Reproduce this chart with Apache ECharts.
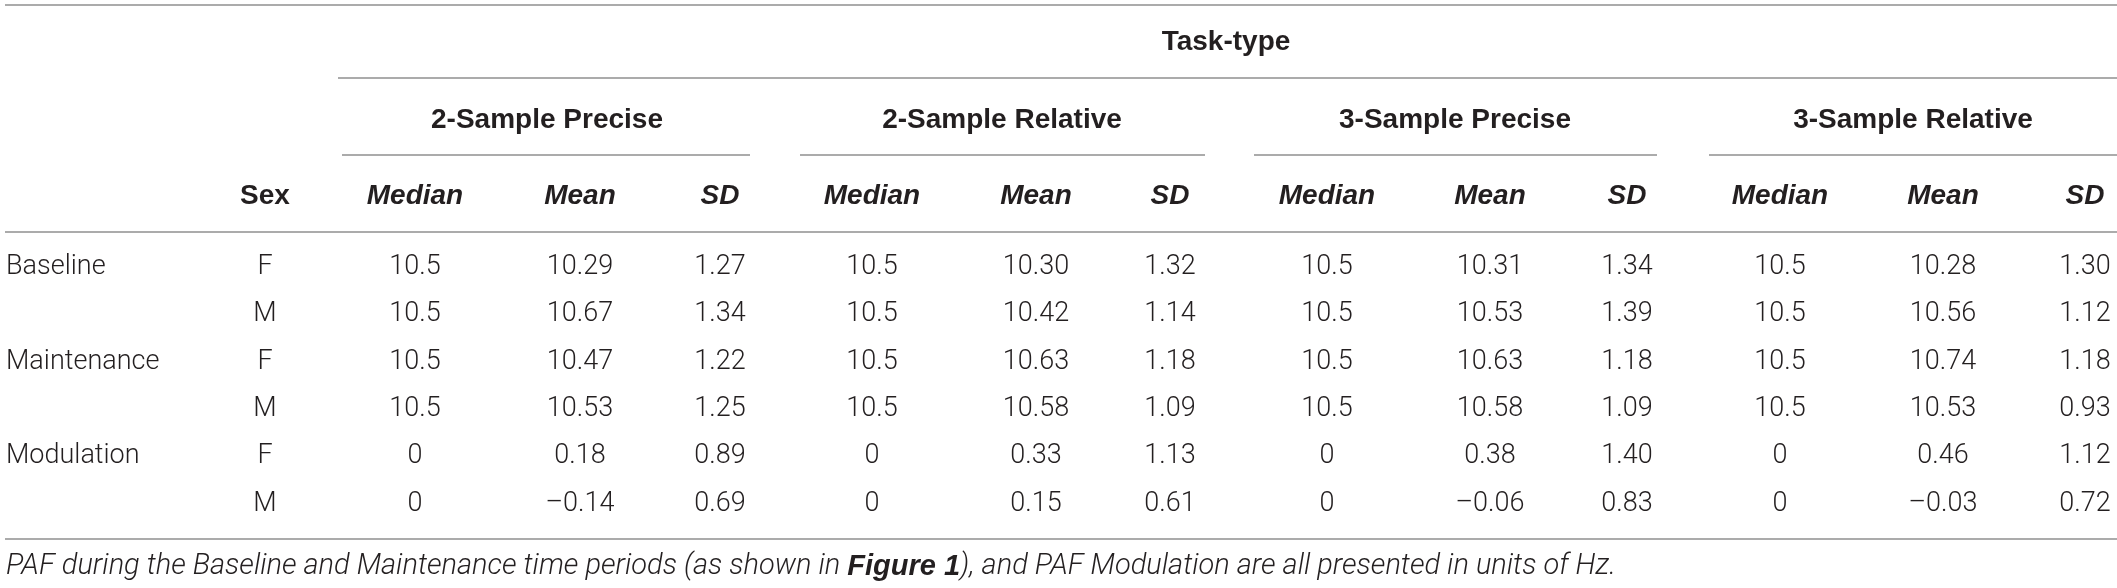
<!DOCTYPE html>
<html>
<head>
<meta charset="utf-8">
<script src="https://cdn.jsdelivr.net/npm/echarts@6/dist/echarts.min.js"></script>
<style>
  html, body { margin: 0; padding: 0; background: #fff; }
  #chart { width: 2117px; height: 588px; }
</style>
</head>
<body>
<div id="chart"></div>
<script>
// table contents
const periods = ["Baseline", "", "Maintenance", "", "Modulation", ""];
const sexes = ["F", "M", "F", "M", "F", "M"];
const taskTypes = ["2-Sample Precise", "2-Sample Relative", "3-Sample Precise", "3-Sample Relative"];
const statLabels = ["Median", "Mean", "SD"];

const medians = {
  "2-Sample Precise": [10.5, 10.5, 10.5, 10.5, 0, 0],
  "2-Sample Relative": [10.5, 10.5, 10.5, 10.5, 0, 0],
  "3-Sample Precise": [10.5, 10.5, 10.5, 10.5, 0, 0],
  "3-Sample Relative": [10.5, 10.5, 10.5, 10.5, 0, 0]
};
const means = {
  "2-Sample Precise": [10.29, 10.67, 10.47, 10.53, 0.18, -0.14],
  "2-Sample Relative": [10.30, 10.42, 10.63, 10.58, 0.33, 0.15],
  "3-Sample Precise": [10.31, 10.53, 10.63, 10.58, 0.38, -0.06],
  "3-Sample Relative": [10.28, 10.56, 10.74, 10.53, 0.46, -0.03]
};
const sds = {
  "2-Sample Precise": [1.27, 1.34, 1.22, 1.25, 0.89, 0.69],
  "2-Sample Relative": [1.32, 1.14, 1.18, 1.09, 1.13, 0.61],
  "3-Sample Precise": [1.34, 1.39, 1.18, 1.09, 1.40, 0.83],
  "3-Sample Relative": [1.30, 1.12, 1.18, 0.93, 1.12, 0.72]
};
const caption = "PAF during the Baseline and Maintenance time periods (as shown in {b|Figure 1}), and PAF Modulation are all presented in units of Hz.";

// layout (pixels)
const W = 2117, H = 588;
const periodX = 6, sexX = 265;
const groupCenters = [547, 1002, 1455, 1913];
const groupRules = [[342, 750], [800, 1205], [1254, 1657], [1709, 2117]];
const statX = [[415, 580, 720], [872, 1036, 1170], [1327, 1490, 1627], [1780, 1943, 2085]];
const rowY0 = 267, rowStep = 47.4;

const ink = "#231f20";
const ruleColor = "#8f8f8f";
const bodyFont = "300 27px Roboto, 'Liberation Sans', sans-serif";
const boldFont = "bold 28px 'Liberation Sans', Arial, sans-serif";
const boldItalicFont = "italic bold 28px 'Liberation Sans', Arial, sans-serif";

function fmt(v, digits) {
  const s = digits == null ? String(v) : Math.abs(v).toFixed(digits);
  return v < 0 ? "\u2013" + s : s;
}

const cells = [];
cells.push({ x: 1226, y: 42, text: "Task-type", font: boldFont });
taskTypes.forEach((t, g) => {
  cells.push({ x: groupCenters[g], y: 120, text: t, font: boldFont });
  statLabels.forEach((s, k) => {
    cells.push({ x: statX[g][k], y: 196, text: s, font: boldItalicFont });
  });
});
cells.push({ x: sexX, y: 196, text: "Sex", font: boldFont });

sexes.forEach((sx, r) => {
  const y = rowY0 + r * rowStep;
  if (periods[r]) cells.push({ x: periodX, y: y, text: periods[r], font: bodyFont, align: "left" });
  cells.push({ x: sexX, y: y, text: sx, font: bodyFont });
  taskTypes.forEach((t, g) => {
    cells.push({ x: statX[g][0], y: y, text: fmt(medians[t][r]), font: bodyFont });
    cells.push({ x: statX[g][1], y: y, text: fmt(means[t][r], 2), font: bodyFont });
    cells.push({ x: statX[g][2], y: y, text: fmt(sds[t][r], 2), font: bodyFont });
  });
});

function hline(x1, x2, y) {
  return {
    type: "line",
    shape: { x1: x1, y1: y, x2: x2, y2: y },
    style: { stroke: ruleColor, lineWidth: 1.5 },
    silent: true
  };
}

const rules = [hline(5, W, 5), hline(338, W, 78), hline(5, W, 232), hline(5, W, 539)];
groupRules.forEach(r => rules.push(hline(r[0], r[1], 155)));

const chart = echarts.init(document.getElementById("chart"));
chart.setOption({
  backgroundColor: "#fff",
  animation: false,
  grid: { left: 0, right: 0, top: 0, bottom: 0 },
  xAxis: { type: "value", min: 0, max: W, show: false },
  yAxis: { type: "value", min: 0, max: H, inverse: true, show: false },
  graphic: rules.concat([{
    type: "text",
    left: 6,
    top: 552,
    style: {
      text: caption,
      font: "italic 300 29px Roboto, 'Liberation Sans', sans-serif",
      fill: ink,
      rich: {
        b: { font: "italic bold 29px 'Liberation Sans', Arial, sans-serif", fill: ink }
      }
    }
  }]),
  series: [{
    type: "custom",
    coordinateSystem: "cartesian2d",
    data: cells.map(c => [c.x, c.y]),
    renderItem: function (params, api) {
      const c = cells[params.dataIndex];
      const p = api.coord([api.value(0), api.value(1)]);
      return {
        type: "text",
        x: p[0],
        y: p[1],
        style: {
          text: c.text,
          font: c.font,
          fill: ink,
          textAlign: c.align || "center",
          textVerticalAlign: "middle"
        }
      };
    }
  }]
});
</script>
</body>
</html>
